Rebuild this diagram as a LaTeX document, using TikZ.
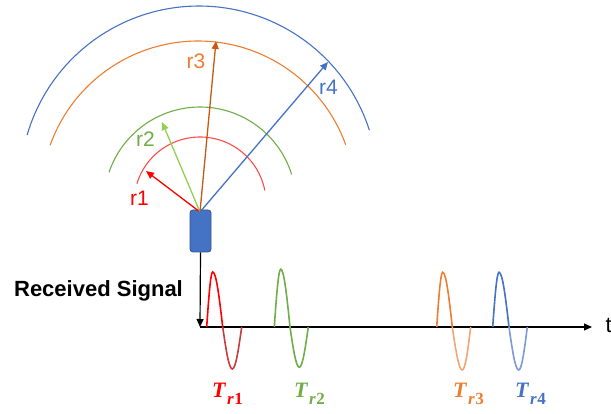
\documentclass[tikz,border=0pt]{standalone}
\usepackage{fontspec}
\setmainfont{Liberation Sans}
\newfontfamily\labelserif{Liberation Serif}
\usetikzlibrary{arrows.meta}
\definecolor{cred}{HTML}{FF0000}
\definecolor{carcred}{HTML}{FF4B4B}
\definecolor{cdred}{HTML}{C83C3C}
\definecolor{cgreen}{HTML}{70AD47}
\definecolor{clgreen}{HTML}{92D050}
\definecolor{corange}{HTML}{ED7D31}
\definecolor{clorange}{HTML}{F2A673}
\definecolor{cbrown}{HTML}{C55A11}
\definecolor{cblue}{HTML}{4472C4}
\definecolor{clblue}{HTML}{7A9BD6}
\definecolor{cdblue}{HTML}{2F528F}
% x0, xp, xz, xt, xe, ypeak, ytrough, upper colour, lower colour
\newcommand{\sigwave}[9]{%
  \draw[wave,#8] (#1,327) .. controls ({#1+.326*(#2-#1)},{327+.512*(#6-327)}) and ({#1+.638*(#2-#1)},#6) .. (#2,#6)
     .. controls ({#2+.362*(#3-#2)},#6) and ({#2+.674*(#3-#2)},{327+.512*(#6-327)}) .. (#3,327);
  \draw[wave,#9] (#3,327) .. controls ({#3+.326*(#4-#3)},{327+.512*(#7-327)}) and ({#3+.638*(#4-#3)},#7) .. (#4,#7)
     .. controls ({#4+.362*(#5-#4)},#7) and ({#4+.674*(#5-#4)},{327+.512*(#7-327)}) .. (#5,327);
}
\newcommand{\trlabel}[1]{{\fontsize{22}{24}\selectfont\labelserif\bfseries\itshape T}\kern1.5pt\raisebox{-7.5pt}{\fontsize{17}{18}\selectfont\labelserif\bfseries\itshape r\kern0.8pt\upshape #1}}
\tikzset{
  arcline/.style={line width=1.1pt},
  ray/.style={line width=1.3pt,-{Triangle[length=8pt,width=7pt]}},
  wave/.style={line width=1.6pt},
  axisline/.style={line width=1.2pt,black,-{Triangle[length=8pt,width=7pt]}},
  rlabel/.style={font=\fontsize{21}{24}\selectfont,anchor=base,inner sep=0pt},
  tlabel/.style={anchor=base,inner sep=0pt},
  antenna/.style={draw=cdblue,fill=cblue,line width=0.8pt,rounded corners=3pt,minimum width=21pt,minimum height=42pt,inner sep=0pt}
}
\begin{document}
\begin{tikzpicture}[x=1pt,y=-1pt]
\useasboundingbox (0,0) rectangle (611,414);
% arcs
\draw[arcline,carcred] plot[domain=163:11,samples=60] ({200+66*cos(\x)},{203-66*sin(\x)});
\draw[arcline,cgreen] plot[domain=161.4:17.3,samples=60] ({200+96*cos(\x)},{203-96*sin(\x)});
\draw[arcline,corange] plot[domain=160.4:19.8,samples=80] ({198+157*cos(\x)},{198-157*sin(\x)});
\draw[arcline,cblue] plot[domain=163.8:17.8,samples=80] ({199+179*cos(\x)},{185-179*sin(\x)});
% antenna and rays
\coordinate (o) at (200,212);
\coordinate (t1) at (146,171);
\coordinate (t2) at (162,122);
\coordinate (t3) at (216,41);
\coordinate (t4) at (328,62);
\node[antenna] (ant) at (200.5,231) {};
\draw[ray,cred] (o) -- (t1);
\draw[ray,clgreen] (o) -- (t2);
\draw[ray,cbrown] (o) -- (t3);
\draw[ray,cblue] (o) -- (t4);
\node[rlabel,text=cred] (l1) at (139.5,206) {r1};
\node[rlabel,text=cgreen] (l2) at (145.5,147) {r2};
\node[rlabel,text=corange] (l3) at (196,69) {r3};
\node[rlabel,text=cblue] (l4) at (328.5,95) {r4};
% axes
\coordinate (ax0) at (200,327);
\coordinate (ax1) at (592,327);
\draw[axisline] (ant.south) -- (ax0);
\draw[axisline] (ax0) -- (ax1);
\node[anchor=base west,inner sep=0pt,font=\fontsize{22}{24}\selectfont] (tt) at (605.5,333) {t};
\node[anchor=base,inner sep=0pt,font=\fontsize{22}{24}\selectfont\bfseries] (rs) at (98.5,297) {Received Signal};
% waves
\sigwave{206.7}{212.7}{222.7}{232.3}{241.7}{272}{369}{cred}{cdred}
\sigwave{274.3}{280.7}{290}{299.3}{308.3}{269.3}{367.3}{cgreen}{cgreen}
\sigwave{436.7}{442.7}{452.3}{462.3}{470.7}{272.3}{370}{corange}{clorange}
\sigwave{492.7}{499}{509}{518.7}{527.3}{272.3}{370}{cblue}{clblue}
% labels
\node[tlabel,text=cred] (T1) at (227.5,397) {\trlabel{1}};
\node[tlabel,text=cgreen] (T2) at (309.5,397) {\trlabel{2}};
\node[tlabel,text=corange] (T3) at (468.5,397) {\trlabel{3}};
\node[tlabel,text=cblue] (T4) at (530.5,397) {\trlabel{4}};
\end{tikzpicture}
\end{document}
